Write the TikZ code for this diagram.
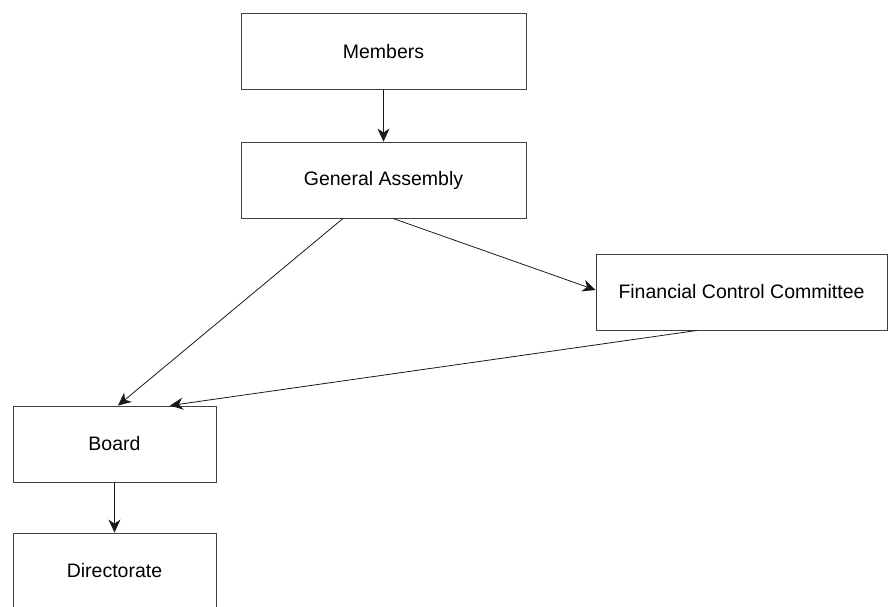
\documentclass[tikz,border=0pt]{standalone}
\usepackage{fontspec}
\setmainfont{Liberation Sans}
\usetikzlibrary{arrows.meta, positioning}

\begin{document}
\begin{tikzpicture}[x=1pt, y=-1pt,
  orgbox/.style={draw=black!75, line width=0.9pt, rectangle, minimum height=76pt, font=\fontsize{19.5}{22}\selectfont, inner sep=0pt},
  link/.style={-{Stealth[length=13pt, width=12pt, inset=4pt]}, line width=0.8pt, black!90}]
  \useasboundingbox (0,0) rectangle (888,606);
  \node[orgbox, minimum width=285pt] (members) at (383.5,51.5) {Members};
  \node[orgbox, minimum width=285pt] (assembly) at (383.5,180) {General Assembly};
  \node[orgbox, minimum width=291pt] (control) at (741.5,292) {Financial Control Committee};
  \node[orgbox, minimum width=203pt] (board) at (114.5,444) {Board};
  \node[orgbox, minimum width=203pt] (direct) at (114.5,571) {Directorate};
  \draw[link] (members) -- (assembly);
  \draw[link] ([xshift=-40.5pt]assembly.south) -- ([xshift=3.5pt]board.north);
  \draw[link] ([xshift=9.5pt]assembly.south) -- ([yshift=2pt]control.west);
  \draw[link] ([xshift=-44.5pt]control.south) -- ([xshift=55.5pt]board.north);
  \draw[link] (board) -- (direct);
\end{tikzpicture}
\end{document}
